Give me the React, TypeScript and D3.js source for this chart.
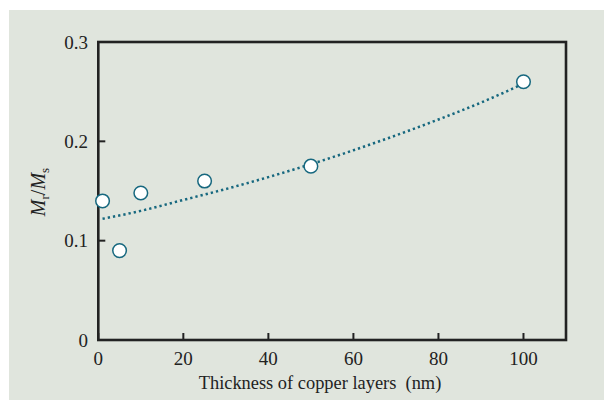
import React from "react";
import * as d3 from "d3";

// Measured remanence ratio vs. copper layer thickness
const thicknessNm = [1, 5, 10, 25, 50, 100];
const remanenceRatio = [0.14, 0.09, 0.148, 0.16, 0.175, 0.26];

// Fitted trend curve (thickness, ratio)
const fitThickness = [1, 10, 20, 30, 40, 50, 60, 70, 80, 90, 100];
const fitRatio = [0.122, 0.13, 0.141, 0.152, 0.164, 0.177, 0.191, 0.206, 0.222, 0.239, 0.258];

const xTicks = [0, 20, 40, 60, 80, 100];
const yTicks = [0, 0.1, 0.2, 0.3];

const W = 604;
const H = 400;
const left = 98.3;
const right = 566;
const top = 42;
const bottom = 340;

export default function App() {
  const x = d3.scaleLinear().domain([0, 110]).range([left, right]);
  const y = d3.scaleLinear().domain([0, 0.3]).range([bottom, top]);

  const fitLine = d3
    .line<number>()
    .x((_, i) => x(fitThickness[i]))
    .y((d) => y(d))
    .curve(d3.curveMonotoneX)(fitRatio) as string;

  const teal = "#17687f";
  const font = "'Liberation Serif', 'Times New Roman', serif";
  const fs = 19;

  return (
    <svg
      width={W}
      height={H}
      style={{ position: "absolute", left: 0, top: 0, display: "block" }}
      fontFamily={font}
    >
      <rect x={0} y={0} width={W} height={H} fill="#ffffff" />
      <rect x={9} y={10} width={W - 9} height={H - 10} fill="#e0e5dd" />

      {/* fitted curve */}
      <path
        d={fitLine}
        fill="none"
        stroke={teal}
        strokeWidth={2.5}
        strokeDasharray="2.3,3"
      />

      {/* ticks */}
      {xTicks.map((t) => (
        <line key={"xt" + t} x1={x(t)} x2={x(t)} y1={bottom} y2={bottom - 7} stroke="#222" strokeWidth={2} />
      ))}
      {yTicks.map((t) => (
        <line key={"yt" + t} x1={left} x2={left + 7} y1={y(t)} y2={y(t)} stroke="#222" strokeWidth={2} />
      ))}

      {/* frame */}
      <rect
        x={left}
        y={top}
        width={right - left}
        height={bottom - top}
        fill="none"
        stroke="#222"
        strokeWidth={2.6}
      />

      {/* data points */}
      {thicknessNm.map((t, i) => (
        <circle
          key={"p" + i}
          cx={x(t)}
          cy={y(remanenceRatio[i])}
          r={6.8}
          fill="#ffffff"
          stroke={teal}
          strokeWidth={1.5}
        />
      ))}

      {/* x tick labels */}
      {xTicks.map((t) => (
        <text key={"xl" + t} x={x(t)} y={365} textAnchor="middle" fontSize={fs} fill="#222">
          {t}
        </text>
      ))}
      {/* y tick labels */}
      {yTicks.map((t) => (
        <text key={"yl" + t} x={88} y={y(t) + 6.5} textAnchor="end" fontSize={fs} fill="#222">
          {t === 0 ? "0" : t.toFixed(1)}
        </text>
      ))}

      <text x={320} y={389} textAnchor="middle" fontSize={18.4} fill="#222" xmlSpace="preserve">
        Thickness of copper layers  (nm)
      </text>

      <text
        transform={`translate(45,192) rotate(-90)`}
        textAnchor="middle"
        fontSize={20}
        fill="#222"
      >
        <tspan fontStyle="italic">M</tspan>
        <tspan fontSize={13} dy={4}>r</tspan>
        <tspan dy={-4}>/</tspan>
        <tspan fontStyle="italic">M</tspan>
        <tspan fontSize={13} dy={4}>s</tspan>
      </text>
    </svg>
  );
}
